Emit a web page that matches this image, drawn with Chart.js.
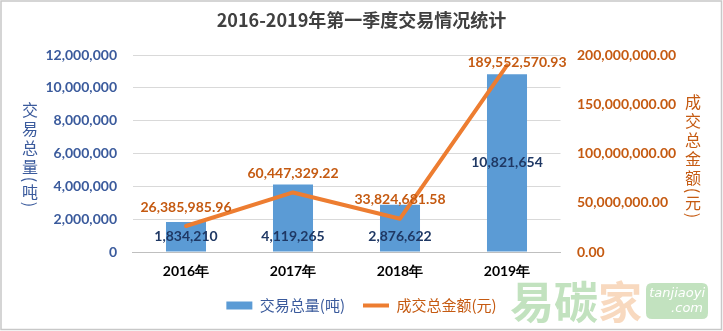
<!DOCTYPE html>
<html><head><meta charset="utf-8">
<script src="https://cdn.jsdelivr.net/npm/chart.js@4/dist/chart.umd.min.js"></script>
<style>html,body{margin:0;padding:0;background:#fff}canvas{display:block}</style>
</head><body>
<canvas id="c" width="723" height="331"></canvas>
<script>
const chartTitle = '2016-2019年第一季度交易情况统计';
const categories = ['2016年', '2017年', '2018年', '2019年'];
const seriesNames = ['交易总量(吨)', '成交总金额(元)'];
const volumeTons = [1834210, 4119265, 2876622, 10821654];
const amountYuan = [26385985.96, 60447329.22, 33824681.58, 189552570.93];
const leftAxisTitle = ['交', '易', '总', '量', '(', '吨', ')'];
const rightAxisTitle = ['成', '交', '总', '金', '额', '(', '元', ')'];
const leftTickRange = [0, 12000000, 2000000];
const rightTickRange = [0, 200000000, 50000000];

const BLUE = '#5B9BD5', ORANGE = '#ED7D31', BLUE_TXT = '#3A5A9C', ORANGE_TXT = '#C55A11', NAVY = '#1F3864';
const NUM_FONT = 'Lato, "Noto Sans", sans-serif';
const CJK_FONT = '"Noto Sans CJK SC", sans-serif';

const fmt0 = v => Number(v).toLocaleString('en-US');
const fmt2 = v => Number(v).toLocaleString('en-US', {minimumFractionDigits: 2, maximumFractionDigits: 2});

const frame = {
  id: 'frame',
  beforeDraw(chart) {
    const ctx = chart.ctx;
    ctx.save();
    ctx.fillStyle = '#fff';
    ctx.fillRect(0, 0, chart.width, chart.height);
    ctx.strokeStyle = '#C8C8C8';
    ctx.lineWidth = 1.5;
    ctx.strokeRect(1, 1, chart.width - 2.5, chart.height - 2.5);
    ctx.restore();
  }
};

function drawStacked(ctx, chars, x, yStart, color) {
  ctx.save();
  ctx.fillStyle = color;
  ctx.font = '16px ' + CJK_FONT;
  ctx.textAlign = 'center';
  ctx.textBaseline = 'middle';
  let y = yStart, prevH = null;
  chars.forEach(ch => {
    const br = (ch === '(' || ch === ')');
    const h = br ? 6 : 19;
    if (prevH !== null) y += (prevH + h) / 2;
    if (br) {
      ctx.save();
      ctx.translate(x, y);
      ctx.rotate(Math.PI / 2);
      ctx.fillText(ch, 0, 0);
      ctx.restore();
    } else {
      ctx.fillText(ch, x, y);
    }
    prevH = h;
  });
  ctx.restore();
}

const axisTitles = {
  id: 'axisTitles',
  afterDraw(chart) {
    drawStacked(chart.ctx, leftAxisTitle, 30, 110, BLUE_TXT);
    drawStacked(chart.ctx, rightAxisTitle, 693, 102, ORANGE_TXT);
  }
};

const valueLabels = {
  id: 'valueLabels',
  afterDatasetsDraw(chart) {
    const ctx = chart.ctx;
    ctx.save();
    ctx.textAlign = 'center';
    ctx.textBaseline = 'middle';
    ctx.font = 'bold 14px ' + NUM_FONT;
    const maxV = Math.max(...volumeTons);
    chart.getDatasetMeta(0).data.forEach((el, i) => {
      const v = volumeTons[i];
      const y = v === maxV ? (el.y + el.base) / 2 : el.base - 15;
      ctx.fillStyle = NAVY;
      ctx.fillText(fmt0(v), el.x, y);
    });
    const maxA = Math.max(...amountYuan);
    chart.getDatasetMeta(1).data.forEach((el, i) => {
      const v = amountYuan[i];
      ctx.fillStyle = ORANGE_TXT;
      if (v === maxA) ctx.fillText(fmt2(v), el.x + 10, el.y - 3);
      else ctx.fillText(fmt2(v), el.x, el.y - 19);
    });
    ctx.restore();
  }
};

const watermark = {
  id: 'watermark',
  afterDraw(chart) {
    const ctx = chart.ctx;
    ctx.save();
    ctx.globalAlpha = 0.55;
    ctx.textBaseline = 'middle';
    ctx.textAlign = 'left';
    ctx.font = 'bold 44px ' + CJK_FONT;
    ctx.fillStyle = '#8FCB8A';
    ctx.fillText('易碳', 510, 302);
    ctx.fillStyle = '#F2B98A';
    ctx.fillText('家', 598, 302);
    ctx.fillStyle = '#8FCB8A';
    const bx = 646, by = 283, bw = 62, bh = 36, r = 6;
    ctx.beginPath();
    ctx.moveTo(bx + r, by); ctx.lineTo(bx + bw - r, by); ctx.quadraticCurveTo(bx + bw, by, bx + bw, by + r);
    ctx.lineTo(bx + bw, by + bh - r); ctx.quadraticCurveTo(bx + bw, by + bh, bx + bw - r, by + bh);
    ctx.lineTo(bx + r, by + bh); ctx.quadraticCurveTo(bx, by + bh, bx, by + bh - r);
    ctx.lineTo(bx, by + r); ctx.quadraticCurveTo(bx, by, bx + r, by);
    ctx.fill();
    ctx.globalAlpha = 1;
    ctx.fillStyle = '#fff';
    ctx.font = 'italic 13px "DejaVu Sans", sans-serif';
    ctx.textAlign = 'right';
    ctx.fillText('tanjiaoyi', bx + bw - 3, by + 11);
    ctx.fillText('.com', bx + bw - 5, by + 26);
    ctx.restore();
  }
};

new Chart(document.getElementById('c'), {
  data: {
    labels: categories,
    datasets: [
      {
        type: 'bar', label: seriesNames[0], data: volumeTons, yAxisID: 'yL',
        backgroundColor: BLUE, barPercentage: 0.374, categoryPercentage: 1.0, order: 2
      },
      {
        type: 'line', label: seriesNames[1], data: amountYuan, yAxisID: 'yR',
        borderColor: ORANGE, borderWidth: 4, pointRadius: 0, tension: 0, order: 1,
        borderCapStyle: 'round', borderJoinStyle: 'round'
      }
    ]
  },
  options: {
    responsive: false, animation: false, devicePixelRatio: 1,
    layout: {padding: {left: 0, right: 0, top: 0, bottom: 8}},
    plugins: {
      title: {
        display: true, text: chartTitle, color: '#404040',
        font: {family: CJK_FONT, size: 18, weight: 'bold', lineHeight: 1.2},
        padding: {top: 9, bottom: 24.4}
      },
      legend: {
        position: 'bottom',
        labels: {
          usePointStyle: true, pointStyleWidth: 26, boxHeight: 8, padding: 18,
          font: {family: CJK_FONT, size: 15},
          generateLabels() {
            return [
              {text: seriesNames[0], fillStyle: BLUE, strokeStyle: BLUE, lineWidth: 0, pointStyle: 'rect', fontColor: BLUE_TXT, datasetIndex: 0, hidden: false},
              {text: seriesNames[1], fillStyle: ORANGE, strokeStyle: ORANGE, lineWidth: 4, pointStyle: 'line', fontColor: ORANGE_TXT, datasetIndex: 1, hidden: false}
            ];
          }
        }
      },
      tooltip: {enabled: false}
    },
    scales: {
      x: {
        grid: {display: false, drawTicks: false},
        border: {display: true, color: '#BFBFBF', width: 1},
        ticks: {color: '#000', padding: 10.6, font: {family: NUM_FONT, size: 14, weight: 'bold'}},
        afterFit(s) { s.height = 28; }
      },
      yL: {
        position: 'left', min: leftTickRange[0], max: leftTickRange[1],
        grid: {color: '#D9D9D9', drawTicks: false},
        border: {display: false},
        ticks: {stepSize: leftTickRange[2], color: BLUE_TXT, padding: 15.5, callback: v => fmt0(v),
          font: {family: NUM_FONT, size: 14, weight: 'bold'}},
        afterFit(s) { s.width = 132.5; }
      },
      yR: {
        position: 'right', min: rightTickRange[0], max: rightTickRange[1],
        grid: {display: false, drawTicks: false},
        border: {display: false},
        ticks: {stepSize: rightTickRange[2], color: ORANGE_TXT, padding: 16.5, callback: v => fmt2(v),
          font: {family: NUM_FONT, size: 14, weight: 'bold'}},
        afterFit(s) { s.width = 162.5; }
      }
    }
  },
  plugins: [frame, valueLabels, axisTitles, watermark]
});
</script>
</body></html>
